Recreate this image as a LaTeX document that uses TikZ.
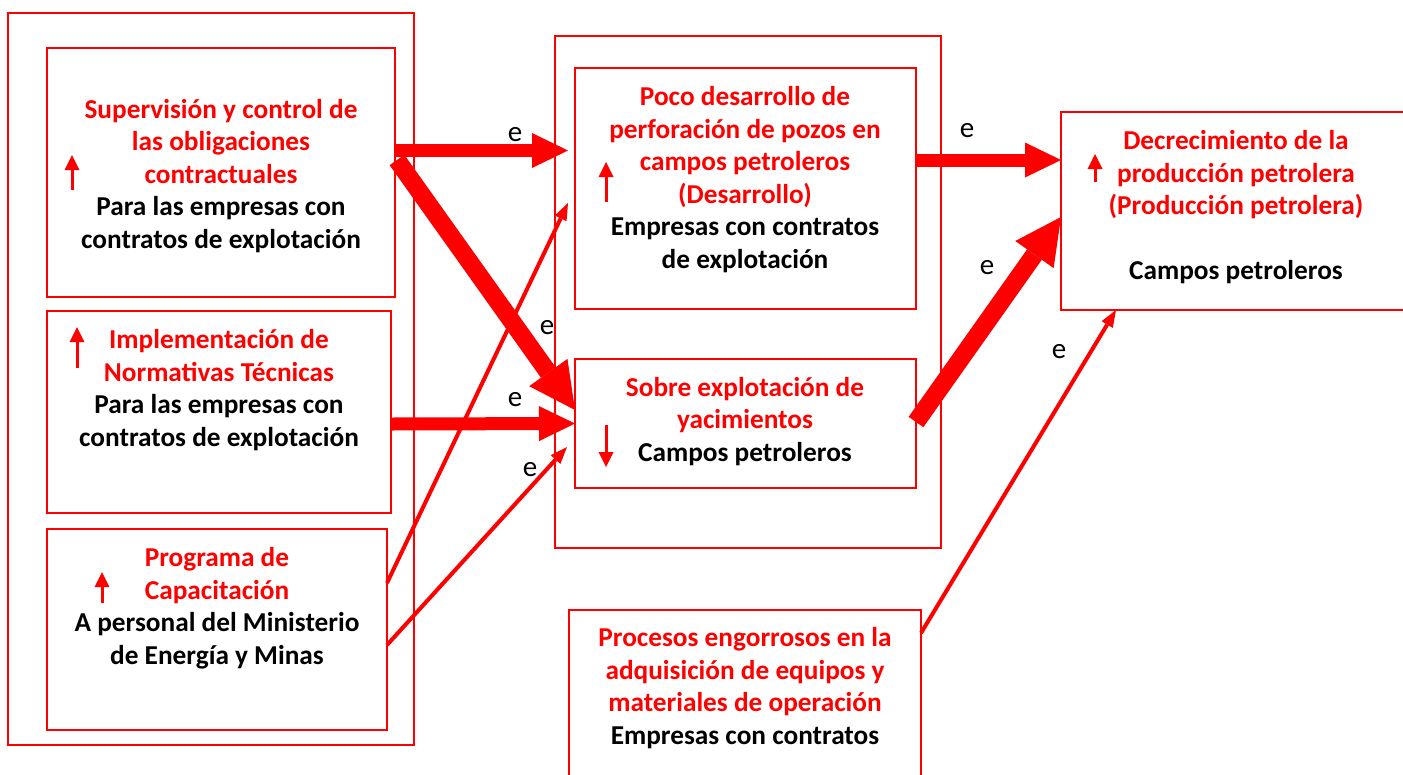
\documentclass[tikz,border=0pt]{standalone}
\usepackage{fontspec}
\setmainfont{Carlito}
\usetikzlibrary{arrows.meta}
\begin{document}
\begin{tikzpicture}[x=1pt,y=-1pt,
  box/.style={draw=red,line width=2.4pt,inner sep=0pt,outer sep=0pt},
  txt/.style={align=center,text=red,font=\fontsize{27.3}{32.5}\selectfont\bfseries,inner sep=0pt},
  lbl/.style={font=\fontsize{29}{30}\selectfont,inner sep=0pt},
  bigarrow/.style={draw=red,line width=13pt,-{Triangle[length=36pt,width=35pt,line width=0pt]}},
  diagarrow/.style={draw=red,line width=18pt,-{Triangle[length=46pt,width=47pt,line width=0pt]}},
  thinarrow/.style={draw=red,line width=4pt,-{Triangle[length=17pt,width=13pt,line width=0pt]}},
  indic/.style={draw=red,line width=3pt,-{Triangle[length=15pt,width=15pt,line width=0pt]}}
]
\useasboundingbox (0,0) rectangle (1403,774);
\fill[white] (0,0) rectangle (1403,774);

% containers
\node[box,minimum width=406pt,minimum height=732pt] (outerL) at (211,379) {};
\node[box,minimum width=386pt,minimum height=512pt] (outerM) at (748,292) {};

% boxes
\node[box,minimum width=348pt,minimum height=249pt] (b1) at (221,172.5) {};
\node[box,minimum width=344pt,minimum height=202pt] (b2) at (219,412) {};
\node[box,minimum width=340pt,minimum height=201pt] (b3) at (217,629.5) {};
\node[box,minimum width=341pt,minimum height=241pt] (poco) at (745.5,188.5) {};
\node[box,minimum width=341pt,minimum height=129pt] (sobre) at (745.5,423.5) {};
\node[box,minimum width=354pt,minimum height=198pt] (decre) at (1238,211) {};
\node[box,minimum width=352pt,minimum height=190pt] (proc) at (745,705) {};

% texts
\node[txt] (t1) at (221,176) {Supervisión y control de\\las obligaciones\\contractuales\\\textcolor{black}{Para las empresas con}\\\textcolor{black}{contratos de explotación}};
\node[txt] (t2) at (219,390) {Implementación de\\Normativas Técnicas\\\textcolor{black}{Para las empresas con}\\\textcolor{black}{contratos de explotación}};
\node[txt] (t3) at (217,608) {Programa de\\Capacitación\\\textcolor{black}{A personal del Ministerio}\\\textcolor{black}{de Energía y Minas}};
\node[txt] (t4) at (745,179.5) {Poco desarrollo de\\perforación de pozos en\\campos petroleros\\(Desarrollo)\\\textcolor{black}{Empresas con contratos}\\\textcolor{black}{de explotación}};
\node[txt] (t5) at (745,421.5) {Sobre explotación de\\yacimientos\\\textcolor{black}{Campos petroleros}};
\node[txt] (t6) at (1236,175) {Decrecimiento de la\\producción petrolera\\(Producción petrolera)};
\node[txt,text=black] (t7) at (1236,272) {Campos petroleros};
\node[txt] (t8) at (745,688) {Procesos engorrosos en la\\adquisición de equipos y\\materiales de operación\\\textcolor{black}{Empresas con contratos}};

% indicator arrows
\draw[indic] (72,190) -- (72,155);
\draw[indic] (77,368) -- (77,327);
\draw[indic] (102,603) -- (102,572);
\draw[indic] (606,202) -- (606,162);
\draw[indic] (606,425) -- (606,467);
\draw[indic] (1095,182) -- (1095,154);

% connectors
\draw[bigarrow] ([yshift=22pt]b1.east) -- ([xshift=-7pt,yshift=38pt]poco.west);
\draw[diagarrow] ([xshift=2pt,yshift=-112pt]b1.north east) -- ([yshift=13.5pt]sobre.west);
\draw[bigarrow] ([yshift=-12pt]b2.east) -- (sobre.west);
\draw[thinarrow] ([yshift=46.5pt]b3.east) -- ([xshift=-7pt,yshift=-14.5pt]poco.west);
\draw[thinarrow] ([yshift=-15.5pt]b3.east) -- ([xshift=-8pt,yshift=-23.5pt]sobre.west);
\draw[bigarrow] ([yshift=28.5pt]poco.east) -- ([yshift=51pt]decre.west);
\draw[diagarrow] ([yshift=1.5pt]sobre.east) -- ([yshift=-6pt]decre.west);
\draw[thinarrow] ([yshift=-23pt]proc.north east) -- ([xshift=55pt]decre.south west);

% labels
\node[lbl] (e1) at (515,135) {e};
\node[lbl] (e2) at (547,328) {e};
\node[lbl] (e3) at (515,400) {e};
\node[lbl] (e4) at (530,470) {e};
\node[lbl] (e5) at (967,131) {e};
\node[lbl] (e6) at (987,268) {e};
\node[lbl] (e7) at (1059,352) {e};
\end{tikzpicture}
\end{document}
